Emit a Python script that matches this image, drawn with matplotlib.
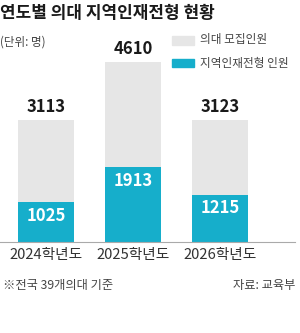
import numpy as np
import matplotlib.pyplot as plt

plt.rcParams['font.family'] = ['Noto Sans CJK KR', 'DejaVu Sans']

years = ['2024학년도', '2025학년도', '2026학년도']
total = [3113, 4610, 3123]
regional = [1025, 1913, 1215]

gray = '#e6e6e6'
cyan = '#16aecb'

fig = plt.figure(figsize=(3.0, 3.33), dpi=100)
ax = fig.add_axes([0.0, 91 / 333, 295 / 300, 202 / 333])

x = np.arange(len(years))
w = 0.64
ax.bar(x, total, width=w, color=gray, zorder=1)
ax.bar(x, regional, width=w, color=cyan, zorder=2)

for xi, t, r in zip(x, total, regional):
    ax.annotate(str(t), (xi, t), xytext=(0, 9.5), textcoords='offset points',
                ha='center', va='center', fontsize=12, fontweight='bold', color='#1a1a1a')
    ax.annotate(str(r), (xi, r), xytext=(0, -10), textcoords='offset points',
                ha='center', va='center', fontsize=12, fontweight='bold', color='white')

ax.set_xlim(-46 / 87, 2 + (295 - 220.5) / 87)
ax.set_ylim(0, 202 / 180 * 4610)
for s in ['top', 'right', 'left']:
    ax.spines[s].set_visible(False)
ax.spines['bottom'].set_color('#aaaaaa')
ax.spines['bottom'].set_linewidth(0.8)
ax.set_yticks([])
ax.set_xticks(x)
ax.set_xticklabels(years, fontsize=10.6, color='#333333')
ax.tick_params(axis='x', length=0, pad=4)

fig.text(0.0, 1 - 13 / 333, '연도별 의대 지역인재전형 현황', fontsize=12.2, fontweight='bold',
         color='#1a1a1a', va='center', ha='left')
fig.text(0.0, 1 - 42 / 333, '(단위: 명)', fontsize=8.3, color='#444444', va='center', ha='left')

# legend
fig.patches.append(plt.Rectangle((172 / 300, 1 - 45 / 333), 22 / 300, 9 / 333,
                                 transform=fig.transFigure, color=gray))
fig.patches.append(plt.Rectangle((172 / 300, 1 - 67 / 333), 22 / 300, 8 / 333,
                                 transform=fig.transFigure, color=cyan))
fig.text(200 / 300, 1 - 40 / 333, '의대 모집인원', fontsize=8.4, color='#444444', va='center')
fig.text(200 / 300, 1 - 63 / 333, '지역인재전형 인원', fontsize=8.4, color='#444444', va='center')

fig.text(3 / 300, 1 - 286 / 333, '※전국 39개의대 기준', fontsize=8.8, color='#444444', va='center')
fig.text(295 / 300, 1 - 286 / 333, '자료: 교육부', fontsize=8.8, color='#444444', va='center', ha='right')

fig.savefig('out.png', dpi=100, facecolor='white')
